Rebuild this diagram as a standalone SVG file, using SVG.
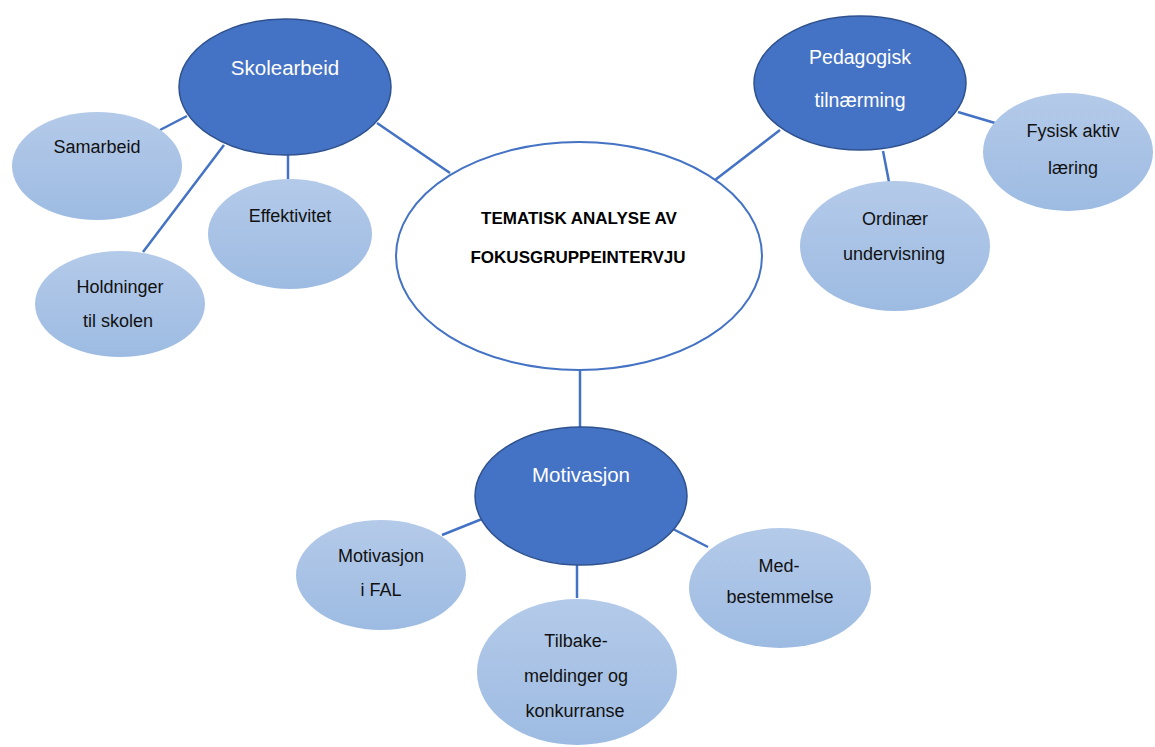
<svg xmlns="http://www.w3.org/2000/svg" width="1155" height="747" viewBox="0 0 1155 747">
<defs>
<linearGradient id="lg" x1="0" y1="0" x2="0" y2="1">
<stop offset="0" stop-color="#B4CAE9"/>
<stop offset="1" stop-color="#9DBBE2"/>
</linearGradient>
</defs>
<style>
.dark{fill:#4472C4;stroke:#2F528F;stroke-width:1.5}
.light{fill:url(#lg);stroke:none}
.center{fill:#FFFFFF;stroke:#4472C4;stroke-width:2}
.conn line{stroke:#4472C4;stroke-width:2.5}
.tw{font-family:"Liberation Sans",Arial,sans-serif;fill:#FFFFFF;text-anchor:middle}
.tb{font-family:"Liberation Sans",Arial,sans-serif;fill:#111111;text-anchor:middle;font-size:18px}
.tc{font-family:"Liberation Sans",Arial,sans-serif;fill:#000000;text-anchor:middle;font-size:17px;font-weight:bold}
</style>
<rect width="1155" height="747" fill="#FFFFFF"/>
<g id="connectors" class="conn">
<line x1="377" y1="123" x2="450" y2="173"/>
<line x1="160" y1="130" x2="187" y2="116"/>
<line x1="143" y1="252" x2="224" y2="145"/>
<line x1="288" y1="155" x2="288" y2="179"/>
<line x1="780" y1="130" x2="715" y2="180"/>
<line x1="883" y1="151" x2="889" y2="182"/>
<line x1="958" y1="112" x2="995" y2="123"/>
<line x1="580" y1="370" x2="580" y2="427"/>
<line x1="482" y1="519" x2="442" y2="535"/>
<line x1="577" y1="565" x2="577" y2="598"/>
<line x1="673" y1="529" x2="708" y2="547"/>
</g>
<g id="center">
<ellipse class="center" cx="579" cy="256" rx="183" ry="114"/>
<text class="tc" x="579" y="224">TEMATISK ANALYSE AV</text>
<text class="tc" x="578" y="263">FOKUSGRUPPEINTERVJU</text>
</g>
<g id="skolearbeid">
<ellipse class="dark" cx="285" cy="87" rx="106" ry="68"/>
<text class="tw" x="285" y="75" font-size="20.5">Skolearbeid</text>
</g>
<g id="samarbeid">
<ellipse class="light" cx="97" cy="166" rx="85" ry="54"/>
<text class="tb" x="97" y="153">Samarbeid</text>
</g>
<g id="effektivitet">
<ellipse class="light" cx="290" cy="234" rx="82" ry="55"/>
<text class="tb" x="290" y="222">Effektivitet</text>
</g>
<g id="holdninger">
<ellipse class="light" cx="120" cy="304" rx="85" ry="53"/>
<text class="tb" x="120" y="293">Holdninger</text>
<text class="tb" x="118" y="327">til skolen</text>
</g>
<g id="pedagogisk">
<ellipse class="dark" cx="860" cy="83" rx="106" ry="67"/>
<text class="tw" x="860" y="64" font-size="19.5">Pedagogisk</text>
<text class="tw" x="860" y="107" font-size="19.5">tilnærming</text>
</g>
<g id="fysisk">
<ellipse class="light" cx="1068" cy="152" rx="85" ry="59"/>
<text class="tb" x="1073" y="137">Fysisk aktiv</text>
<text class="tb" x="1073" y="174">læring</text>
</g>
<g id="ordinaer">
<ellipse class="light" cx="895" cy="246" rx="95" ry="65"/>
<text class="tb" x="895" y="225">Ordinær</text>
<text class="tb" x="894" y="260">undervisning</text>
</g>
<g id="motivasjon">
<ellipse class="dark" cx="581" cy="496" rx="106" ry="69"/>
<text class="tw" x="581" y="482" font-size="20.5">Motivasjon</text>
</g>
<g id="motivasjon-fal">
<ellipse class="light" cx="381" cy="575" rx="85" ry="55"/>
<text class="tb" x="381" y="562">Motivasjon</text>
<text class="tb" x="381" y="596">i FAL</text>
</g>
<g id="tilbakemeldinger">
<ellipse class="light" cx="577" cy="672" rx="100" ry="73"/>
<text class="tb" x="576" y="647">Tilbake-</text>
<text class="tb" x="576" y="682">meldinger og</text>
<text class="tb" x="575" y="717">konkurranse</text>
</g>
<g id="medbestemmelse">
<ellipse class="light" cx="780" cy="588" rx="91" ry="60"/>
<text class="tb" x="779" y="572">Med-</text>
<text class="tb" x="780" y="603">bestemmelse</text>
</g>
</svg>
